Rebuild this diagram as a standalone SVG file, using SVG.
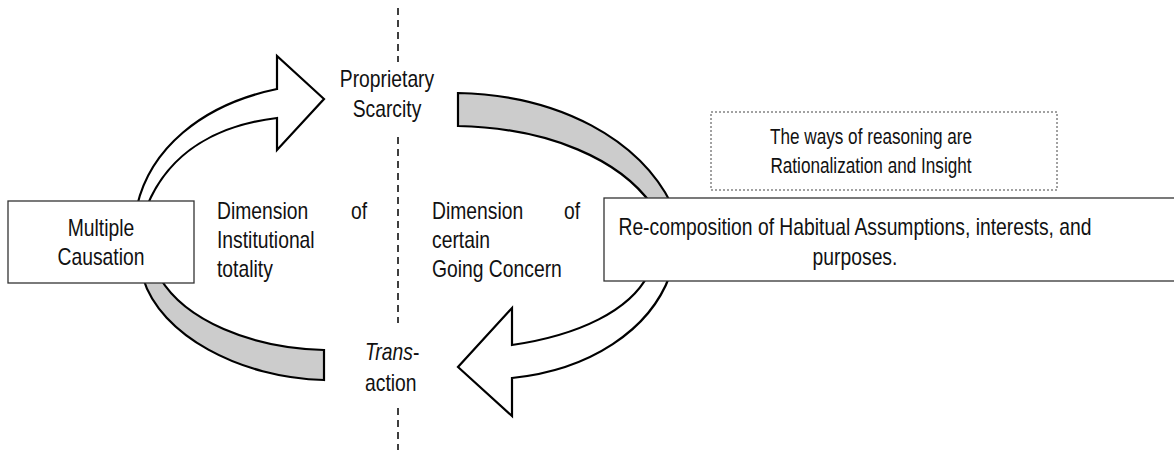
<svg xmlns="http://www.w3.org/2000/svg" width="1174" height="450" viewBox="0 0 1174 450">
<style>
text{font-family:"Liberation Sans",Arial,sans-serif;font-size:23px;fill:#111}
.small{font-size:22px}
.arrow{stroke:#000;stroke-width:2.2;stroke-linejoin:miter}
.white{fill:#fff}
.grey{fill:#cccccc}
.box{fill:#fff;stroke:#333;stroke-width:1.3}
.dotbox{fill:#fff;stroke:#444;stroke-width:1;stroke-dasharray:2 2}
.axis{stroke:#000;stroke-width:1.5;stroke-dasharray:7 5;fill:none}
</style>
<rect width="1174" height="450" fill="#fff"/>
<g id="connectors">
<line class="axis" x1="398" y1="8" x2="398" y2="62"/>
<line class="axis" x1="398" y1="137" x2="398" y2="323"/>
<line class="axis" x1="398" y1="408" x2="398" y2="450"/>
<path id="arrow-up-left" class="arrow white" d="M137,206 C150,150 200,105 277,89 L277,56 L324,99 L277,150 L277,118 C220,125 170,150 147,206 Z"/>
<path id="band-top-right" class="arrow grey" d="M458,93 C560,95 640,140 672,205 L652,205 C620,160 550,128 458,126 Z"/>
<path id="arrow-down-right" class="arrow white" d="M648,275 C630,310 580,335 512,345 L512,308 L458,367 L512,416 L512,378 C590,370 650,330 670,275 Z"/>
<path id="band-bottom-left" class="arrow grey" d="M143,278 C160,335 240,378 324,380 L324,350 C250,348 185,320 160,278 Z"/>
</g>
<g id="node-proprietary">
<text transform="translate(387 87) scale(0.84 1)" text-anchor="middle"><tspan x="0" y="0">Proprietary</tspan><tspan x="0" y="30">Scarcity</tspan></text>
</g>
<g id="node-transaction">
<text transform="translate(365 360) scale(0.84 1)"><tspan x="0" y="0"><tspan font-style="italic">Trans</tspan>-</tspan><tspan x="0" y="31">action</tspan></text>
</g>
<g id="node-multiple">
<rect class="box" x="8" y="201" width="186" height="82"/>
<text transform="translate(101 236) scale(0.84 1)" text-anchor="middle"><tspan x="0" y="0">Multiple</tspan><tspan x="0" y="29">Causation</tspan></text>
</g>
<g id="label-institutional">
<text transform="translate(217 219) scale(0.84 1)"><tspan x="0" y="0">Dimension</tspan><tspan x="0" y="29">Institutional</tspan><tspan x="0" y="58">totality</tspan></text>
<text transform="translate(367 219) scale(0.84 1)" text-anchor="end">of</text>
</g>
<g id="label-going-concern">
<text transform="translate(432 219) scale(0.84 1)"><tspan x="0" y="0">Dimension</tspan><tspan x="0" y="29">certain</tspan><tspan x="0" y="58">Going Concern</tspan></text>
<text transform="translate(580 219) scale(0.84 1)" text-anchor="end">of</text>
</g>
<g id="node-reasoning">
<rect class="dotbox" x="711" y="112" width="346" height="78"/>
<text class="small" transform="translate(871 144) scale(0.78 1)" text-anchor="middle"><tspan x="0" y="0">The ways of reasoning are</tspan><tspan x="0" y="29">Rationalization and Insight</tspan></text>
</g>
<g id="node-recomposition">
<rect class="box" x="604" y="198" width="600" height="83"/>
<text transform="translate(855 235) scale(0.84 1)" text-anchor="middle"><tspan x="0" y="0">Re-composition of Habitual Assumptions, interests, and</tspan><tspan x="0" y="30">purposes.</tspan></text>
</g>
</svg>
